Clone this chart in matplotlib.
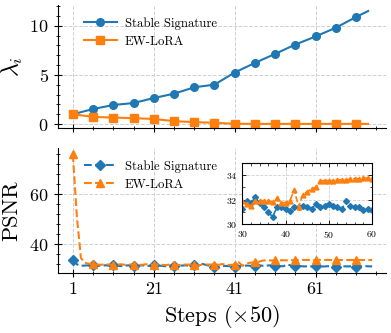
import matplotlib
matplotlib.use("Agg")
import matplotlib.pyplot as plt
from matplotlib.ticker import MultipleLocator

plt.rcParams['font.family'] = ['cmr10', 'DejaVu Serif']
plt.rcParams['mathtext.fontset'] = 'cm'
plt.rcParams['axes.formatter.use_mathtext'] = True
plt.rcParams['axes.unicode_minus'] = False

BLUE = '#1f77b4'
ORANGE = '#ff7f0e'

# ---- Top panel data (lambda_i) ----
lam_steps = [1, 6, 11, 16, 21, 26, 31, 36, 41, 46, 51, 56, 61, 66, 71, 74]
lam_stable = [1.0, 1.53, 1.94, 2.14, 2.65, 3.09, 3.74, 4.01, 5.24, 6.22,
              7.14, 8.09, 8.91, 9.8, 10.89, 11.5]
lam_ew = [1.0, 0.73, 0.66, 0.6, 0.52, 0.3, 0.2, 0.13, 0.03, 0.02,
          0.02, 0.02, 0.02, 0.02, 0.02, 0.02]

# ---- Bottom panel data (PSNR, every step) ----
psnr_steps = list(range(1, 76))
psnr_stable = [33.8, 32.0, 31.4, 31.5, 31.6, 31.7, 31.5, 31.4, 31.6, 31.5,
               31.6, 31.4, 31.3, 31.5, 31.6, 31.5, 31.4, 31.6, 31.5, 31.3,
               31.7, 31.5, 31.4, 31.2, 31.5, 31.4, 31.3, 31.5, 31.6, 31.2,
               31.9, 31.7, 32.2, 31.7, 31.35, 30.95, 30.6, 31.35, 31.35, 31.2,
               31.05, 31.35, 31.35, 31.5, 31.4, 31.2, 31.65, 31.4, 31.5, 31.6,
               31.5, 31.35, 31.2, 31.9, 31.5, 31.4, 31.35, 31.15, 31.2, 31.15,
               31.2, 31.3, 31.1, 31.25, 31.2, 31.1, 31.3, 31.2, 31.15, 31.25,
               31.1, 31.2, 31.3, 31.2, 31.15]
psnr_ew = [76.0, 51.0, 34.5, 32.6, 32.2, 32.0, 31.9, 31.8, 32.0, 31.9,
           31.8, 31.9, 32.0, 31.8, 31.9, 31.9, 31.7, 31.8, 32.0, 31.9,
           31.8, 31.9, 31.8, 31.7, 31.9, 31.8, 31.7, 31.8, 31.9, 31.9,
           31.6, 31.5, 31.9, 31.9, 31.9, 31.9, 31.8, 32.1, 31.75, 31.75,
           31.9, 32.8, 31.4, 32.4, 32.65, 32.85, 33.0, 33.5, 33.55, 33.55,
           33.55, 33.6, 33.6, 33.6, 33.65, 33.7, 33.7, 33.75, 33.75, 33.7,
           33.7, 33.75, 33.7, 33.75, 33.7, 33.75, 33.7, 33.7, 33.75, 33.7,
           33.75, 33.7, 33.7, 33.75, 33.7]

xticks = [1, 21, 41, 61]
xticklabels = ['1', '21', '41', '61']
series_names = ['Stable Signature', 'EW-LoRA']

fig = plt.figure(figsize=(3.91, 3.33), dpi=100)
ax1 = fig.add_axes([0.148, 0.6156, 0.838, 0.369])
ax2 = fig.add_axes([0.148, 0.18, 0.838, 0.3756], sharex=ax1)

def style(ax):
    for s in ['top', 'right']:
        ax.spines[s].set_visible(False)
    ax.tick_params(which='both', direction='inout', top=False, right=False)
    ax.tick_params(which='major', length=6, width=0.8, labelsize=13)
    ax.tick_params(which='minor', length=3.5, width=0.6)
    ax.grid(True, which='major', linestyle='--', color='#d0d0d0', linewidth=0.7)
    ax.set_axisbelow(True)

leg_kw = dict(loc='upper left', frameon=False, fontsize=9.2,
              bbox_to_anchor=(0.052, 0.975), handlelength=2.6,
              handletextpad=0.6, labelspacing=0.45, borderaxespad=0.3)

# Top
ax1.plot(lam_steps, lam_stable, '-o', color=BLUE, lw=1.5, ms=5.5,
         markevery=list(range(15)), label=series_names[0])
ax1.plot(lam_steps, lam_ew, '-s', color=ORANGE, lw=1.5, ms=5.5,
         markevery=list(range(15)), label=series_names[1])
style(ax1)
ax1.set_ylim(-0.4, 12.1)
ax1.yaxis.set_major_locator(MultipleLocator(5))
ax1.yaxis.set_minor_locator(MultipleLocator(1))
ax1.set_ylabel(r'$\lambda_i$', fontsize=17)
ax1.yaxis.set_label_coords(-0.1, 0.5)
ax1.tick_params(axis='x', labelbottom=False)
ax1.legend(**leg_kw)

# Bottom
ax2.plot(psnr_steps, psnr_stable, '--D', color=BLUE, lw=1.5, ms=5,
         markevery=5, label=series_names[0])
ax2.plot(psnr_steps, psnr_ew, '--^', color=ORANGE, lw=1.5, ms=6,
         markevery=5, label=series_names[1])
style(ax2)
ax2.set_ylim(28.5, 78.5)
ax2.yaxis.set_major_locator(MultipleLocator(20))
ax2.yaxis.set_minor_locator(MultipleLocator(4))
ax2.set_xticks(xticks)
ax2.set_xticklabels(xticklabels)
ax2.set_xticks(list(range(1, 80, 5)), minor=True)
ax2.set_ylabel('PSNR', fontsize=16)
ax2.yaxis.set_label_coords(-0.112, 0.5)
ax2.set_xlabel(r'Steps ($\times$50)', fontsize=16, labelpad=4)
ax2.legend(**leg_kw)

# Inset
axin = ax2.inset_axes([0.563, 0.392, 0.396, 0.49])
axin.plot(psnr_steps, psnr_stable, '--D', color=BLUE, lw=1.2, ms=3)
axin.plot(psnr_steps, psnr_ew, '--^', color=ORANGE, lw=1.2, ms=3.5)
axin.set_xlim(30, 60)
axin.set_ylim(30, 35)
axin.xaxis.set_major_locator(MultipleLocator(10))
axin.xaxis.set_minor_locator(MultipleLocator(2))
axin.yaxis.set_major_locator(MultipleLocator(2))
axin.yaxis.set_minor_locator(MultipleLocator(1))
axin.tick_params(which='both', direction='in', top=True, right=True, labelsize=7)
axin.tick_params(which='major', length=3, width=0.6)
axin.tick_params(which='minor', length=1.8, width=0.5)
axin.grid(True, which='major', linestyle='--', color='#d0d0d0', linewidth=0.6)
axin.set_axisbelow(True)
ax2.set_xlim(-2.7, 78.3)

fig.savefig('out.png', dpi=100)
